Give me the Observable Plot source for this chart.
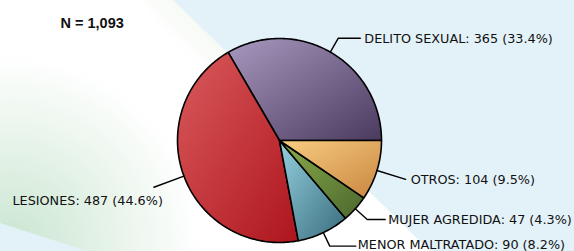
<!DOCTYPE html>
<html>
<head>
<meta charset="utf-8">
<script src="https://cdn.jsdelivr.net/npm/d3@7"></script>
<script src="https://cdn.jsdelivr.net/npm/@observablehq/plot@0.6"></script>
<style>
  html, body { margin: 0; padding: 0; }
  body { width: 574px; height: 251px; overflow: hidden; position: relative; background: #e3f2f8; }
  #bg { position: absolute; left: 0; top: 0; }
  #chart { position: absolute; left: 0; top: 0; }
</style>
</head>
<body>
<svg id="bg" width="574" height="251" viewBox="0 0 574 251">
  <defs>
    <radialGradient id="bandGreen" gradientUnits="userSpaceOnUse" cx="10" cy="245" r="190">
      <stop offset="0" stop-color="#c9e5d1"/>
      <stop offset="0.45" stop-color="#e2f1e5"/>
      <stop offset="1" stop-color="#ffffff"/>
    </radialGradient>
    <linearGradient id="bandTop" gradientUnits="userSpaceOnUse" x1="200" y1="25" x2="178" y2="47">
      <stop offset="0" stop-color="#f0f6ec"/>
      <stop offset="1" stop-color="#ffffff"/>
    </linearGradient>
  </defs>
  <polygon points="0,0 173,0 430,251 87,251 0,223" fill="url(#bandGreen)"/>
  <polygon points="140,0 173,0 300,125 250,140" fill="url(#bandTop)" opacity="0.6"/>
</svg>
<div id="chart"></div>
<script>
// ---- data ----
const categories = ["DELITO SEXUAL", "LESIONES", "MENOR MALTRATADO", "MUJER AGREDIDA", "OTROS"];
const counts = [365, 487, 90, 47, 104];
const colorsLight = ["#a898bf", "#d95a5c", "#95d0df", "#8cab4a", "#f8cd82"];
const colorsDark  = ["#4a3a5e", "#ae151d", "#386c7c", "#4b682e", "#c98640"];

// ---- layout ----
const W = 574, H = 251;
const cx = 279, cy = 140, R = 102;          // pie center and radius in px
const leaderRadial = [16, 32, 15, 16, 30];  // px outward from edge
const leaderHoriz  = [22, 0, 26, 18, 0];    // px horizontal segment
const labelDx = [4, 9, 2, 3, 5];
const labelDy = [1, 14, -1, 0, 1];
const labelAnchor = ["start", "end", "start", "start", "start"];

const total = d3.sum(counts);
const cum = d3.cumsum(counts);
const slices = categories.map((c, i) => {
  const a0 = 2 * Math.PI * (cum[i] - counts[i]) / total;
  const a1 = 2 * Math.PI * cum[i] / total;
  return {cat: c, value: counts[i], i, a0, a1, mid: (a0 + a1) / 2,
    pct: (100 * counts[i] / total).toFixed(1)};
});

// polygon points for each slice, in unit-circle coordinates (y up)
const slicePts = slices.map(s => {
  const pts = [{x: 0, y: 0}];
  const n = Math.max(2, Math.ceil((s.a1 - s.a0) / (Math.PI / 180)));
  for (let k = 0; k <= n; k++) {
    const a = s.a0 + (s.a1 - s.a0) * k / n;
    pts.push({x: Math.cos(a), y: Math.sin(a)});
  }
  pts.push({x: 0, y: 0});
  return pts;
});

// leader lines
const leaders = [];
const labels = [];
slices.forEach((s, i) => {
  const ux = Math.cos(s.mid), uy = Math.sin(s.mid);
  const p0 = {x: ux, y: uy, z: i};
  const k = 1 + leaderRadial[i] / R;
  const p1 = {x: ux * k, y: uy * k, z: i};
  const side = ux >= 0 ? 1 : -1;
  const p2 = {x: p1.x + side * leaderHoriz[i] / R, y: p1.y, z: i};
  leaders.push(p0, p1, p2);
  labels.push({x: p2.x, y: p2.y, i,
    text: `${s.cat}: ${d3.format(",")(s.value)} (${s.pct}%)`});
});

const chart = Plot.plot({
  width: W, height: H,
  marginTop: 0, marginRight: 0, marginBottom: 0, marginLeft: 0,
  style: {background: "transparent", overflow: "visible"},
  x: {domain: [-cx / R, (W - cx) / R], range: [0, W], axis: null},
  y: {domain: [-(H - cy) / R, cy / R], range: [H, 0], axis: null},
  marks: [
    ...slicePts.map((pts, i) => Plot.line(pts, {
      x: "x", y: "y", fill: `url(#grad${i})`, stroke: "#000",
      strokeWidth: 1.6, strokeLinejoin: "round"
    })),
    Plot.line(leaders, {x: "x", y: "y", z: "z", stroke: "#000", strokeWidth: 1.4}),
    ...labels.map(l => Plot.text([l], {
      x: "x", y: "y", text: "text", textAnchor: labelAnchor[l.i],
      dx: labelDx[l.i], dy: labelDy[l.i],
      fontFamily: "DejaVu Sans", fontSize: 12.8, fill: "#111"
    })),
    Plot.text([`N = ${d3.format(",")(total)}`], {
      frameAnchor: "top-left", dx: 60, dy: 17, textAnchor: "start",
      fontFamily: "Liberation Sans, Arial", fontWeight: "bold", fontSize: 14.5, fill: "#111"
    })
  ]
});

// gradient definitions for slices
const defs = d3.select(chart).insert("defs", ":first-child");
slices.forEach((s, i) => {
  const g = defs.append("linearGradient").attr("id", `grad${i}`)
    .attr("x1", 0).attr("y1", 0).attr("x2", 1).attr("y2", 1);
  g.append("stop").attr("offset", 0).attr("stop-color", colorsLight[i]);
  g.append("stop").attr("offset", 1).attr("stop-color", colorsDark[i]);
});

document.getElementById("chart").appendChild(chart);
</script>
</body>
</html>
